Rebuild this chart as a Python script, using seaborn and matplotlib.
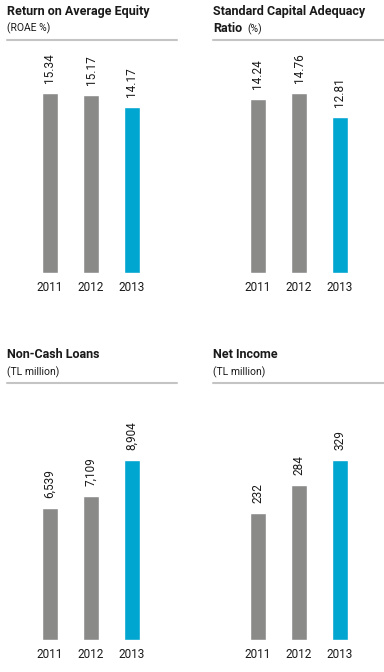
import matplotlib
matplotlib.use("Agg")
import matplotlib.pyplot as plt
import seaborn as sns
from matplotlib.lines import Line2D

sns.set_theme(style="white")
plt.rcParams['font.family'] = ['Roboto', 'DejaVu Sans']

years = ["2011", "2012", "2013"]
roae = [15.34, 15.17, 14.17]
car = [14.24, 14.76, 12.81]
noncash = [6539, 7109, 8904]
net_income = [232, 284, 329]

roae_labels = ["15.34", "15.17", "14.17"]
car_labels = ["14.24", "14.76", "12.81"]
noncash_labels = ["6,539", "7,109", "8,904"]
net_income_labels = ["232", "284", "329"]

GRAY = "#8a8b89"
BLUE = "#00a5d0"
TXT = "#1a1a1a"
palette = {"2011": GRAY, "2012": GRAY, "2013": BLUE}

W, H = 384, 672
fig = plt.figure(figsize=(W / 100, H / 100), dpi=100)

def fx(px):
    return px / W

def fy(py):
    return 1 - py / H

panels = [
    dict(vals=roae, labs=roae_labels, left=7, right=177, line_y=40, bottom=273,
         title=[("Return on Average Equity", 11)], sub=[("(ROAE %)", 28, 7)], first=50),
    dict(vals=car, labs=car_labels, left=213, right=384, line_y=40, bottom=273,
         title=[("Standard Capital Adequacy", 11), ("Ratio", 29)], sub=[("(%)", 29, 247)], first=258),
    dict(vals=noncash, labs=noncash_labels, left=7, right=177, line_y=383, bottom=640,
         title=[("Non-Cash Loans", 354)], sub=[("(TL million)", 372, 7)], first=50),
    dict(vals=net_income, labs=net_income_labels, left=213, right=384, line_y=383, bottom=640,
         title=[("Net Income", 354)], sub=[("(TL million)", 372, 213)], first=258),
]

spacing = 41.0
bar_px = 16.0
max_px = 180.0

for p in panels:
    top = p["line_y"] + 3
    ax = fig.add_axes([fx(p["left"]), fy(p["bottom"]), fx(p["right"] - p["left"]), (p["bottom"] - top) / H])
    sns.barplot(x=years, y=p["vals"], hue=years, palette=palette, legend=False,
                width=bar_px / spacing, ax=ax, saturation=1)
    x0 = (p["left"] - p["first"]) / spacing
    x1 = (p["right"] - p["first"]) / spacing
    ax.set_xlim(x0, x1)
    ax.set_ylim(0, max(p["vals"]) * (p["bottom"] - top) / max_px)
    for s in ax.spines.values():
        s.set_visible(False)
    ax.set_yticks([])
    ax.set_xticks([0, 1, 2])
    ax.set_xticklabels(years, fontsize=8.5, color=TXT)
    ax.tick_params(axis="x", length=0, pad=6)
    ax.set_xlabel("")
    ax.set_ylabel("")
    ax.patch.set_alpha(0)
    for i, (v, lab) in enumerate(zip(p["vals"], p["labs"])):
        ax.annotate(lab, xy=(i, v), xytext=(0, 10), textcoords="offset pixels",
                    rotation=90, ha="center", va="bottom", fontsize=8.5, color=TXT)
    fig.add_artist(Line2D([fx(p["left"]), fx(p["right"])], [fy(p["line_y"]), fy(p["line_y"])],
                          color="#c4c4c4", linewidth=1.5, transform=fig.transFigure))
    for t, y in p["title"]:
        fig.text(fx(p["left"]), fy(y), t, fontsize=9, fontweight="bold", color=TXT,
                 ha="left", va="center")
    for t, y, x in p["sub"]:
        fig.text(fx(x), fy(y), t, fontsize=7.5, color=TXT, ha="left", va="center")

fig.savefig("out.png", dpi=100)
